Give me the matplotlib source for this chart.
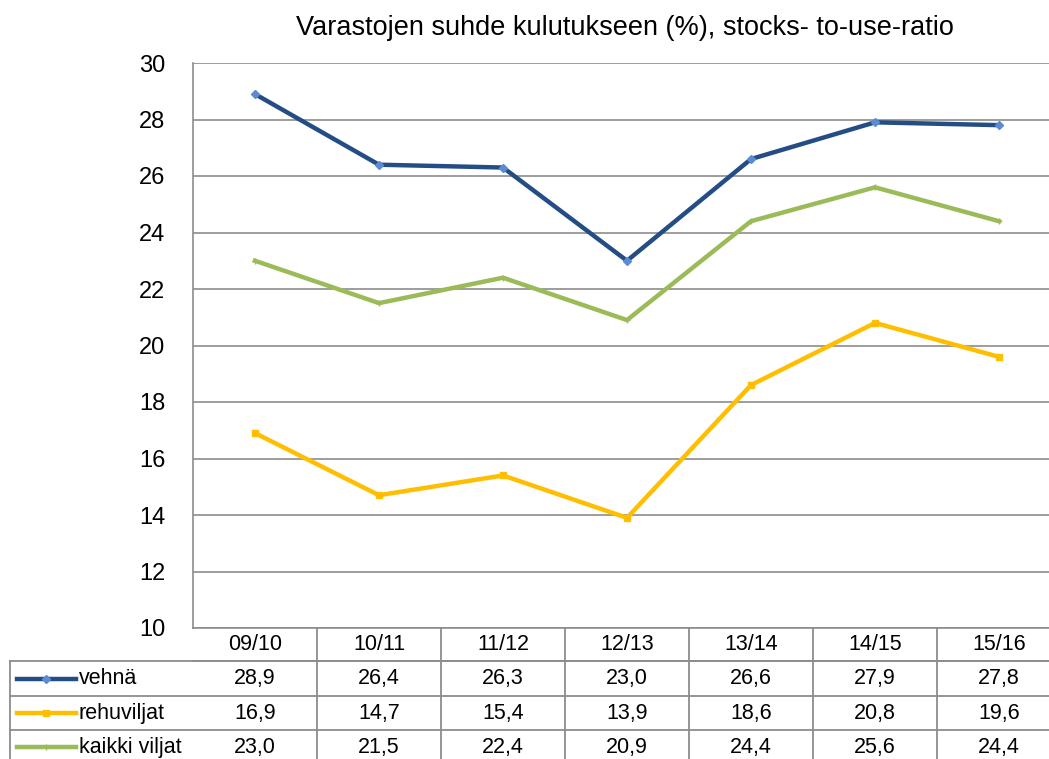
import matplotlib.pyplot as plt
from matplotlib.lines import Line2D

plt.rcParams['font.family'] = ['Liberation Sans', 'DejaVu Sans']

seasons = ['09/10', '10/11', '11/12', '12/13', '13/14', '14/15', '15/16']
vehna = [28.9, 26.4, 26.3, 23.0, 26.6, 27.9, 27.8]
rehuviljat = [16.9, 14.7, 15.4, 13.9, 18.6, 20.8, 19.6]
kaikki_viljat = [23.0, 21.5, 22.4, 20.9, 24.4, 25.6, 24.4]

series = [
    ('vehnä', vehna, '#254D85', 'D', '#5B8BD0'),
    ('rehuviljat', rehuviljat, '#FFBF00', 's', '#FFBF00'),
    ('kaikki viljat', kaikki_viljat, '#9BBB59', '+', '#9BBB59'),
]

W, H = 1049, 759
fig = plt.figure(figsize=(W / 100, H / 100), dpi=100)

# plot area runs a bit past the right edge of the picture, like the original
left, right, top, bottom = 193, 1061, 63, 628
ax = fig.add_axes([left / W, 1 - bottom / H, (right - left) / W, (bottom - top) / H])

for name, vals, col, mk, mcol in series:
    ax.plot(range(len(seasons)), vals, color=col, lw=3.2, marker=mk,
            ms=4, mfc=mcol, mec=mcol, zorder=3)

ax.set_xlim(-0.5, len(seasons) - 0.5)
ax.set_ylim(10, 30)
ax.set_yticks(range(10, 31, 2))
ax.set_xticks([])
ax.grid(axis='y', color='#8C8C8C', lw=1.2)
ax.set_axisbelow(True)
for s in ['top', 'right']:
    ax.spines[s].set_visible(False)
ax.spines['left'].set_color('#8C8C8C')
ax.spines['bottom'].set_color('#8C8C8C')
ax.spines['left'].set_linewidth(1.2)
ax.spines['bottom'].set_linewidth(1.2)
ax.tick_params(axis='y', length=0, labelsize=17, pad=20)

fig.text(625 / W, 1 - 28 / H, 'Varastojen suhde kulutukseen (%), stocks- to-use-ratio',
         ha='center', va='center', fontsize=19.5)


# data table below the plot, drawn in pixel coordinates
def px_line(x0, y0, x1, y1):
    fig.add_artist(Line2D([x0 / W, x1 / W], [1 - y0 / H, 1 - y1 / H],
                          color='#8C8C8C', lw=1.3))


col_w = (right - left) / len(seasons)
row_edges = [628, 661, 696, 730, 764]
tab_left = 10
fs = 15.5

# horizontal lines
px_line(left, row_edges[1], right, row_edges[1])
for y in row_edges[1:4]:
    px_line(tab_left, y, right, y)
# vertical lines
px_line(tab_left, row_edges[1], tab_left, H)
for i in range(len(seasons)):
    x = left + col_w * (i + 1)
    px_line(x, row_edges[0], x, H)

for i, s in enumerate(seasons):
    xc = left + col_w * (i + 0.5)
    fig.text(xc / W, 1 - (row_edges[0] + row_edges[1]) / 2 / H, s,
             ha='center', va='center', fontsize=fs)

for r, (name, vals, col, mk, mcol) in enumerate(series):
    yc = (row_edges[r + 1] + row_edges[r + 2]) / 2
    fig.add_artist(Line2D([17 / W, 76 / W], [1 - yc / H, 1 - yc / H],
                          color=col, lw=3.2))
    fig.add_artist(Line2D([46 / W], [1 - yc / H], marker=mk, ms=4,
                          mfc=mcol, mec=mcol, color=col))
    fig.text(79 / W, 1 - yc / H, name, ha='left', va='center', fontsize=fs)
    for i, v in enumerate(vals):
        xc = left + col_w * (i + 0.5)
        fig.text(xc / W, 1 - yc / H, f'{v:.1f}'.replace('.', ','),
                 ha='center', va='center', fontsize=fs)

fig.savefig('out.png', dpi=100)
